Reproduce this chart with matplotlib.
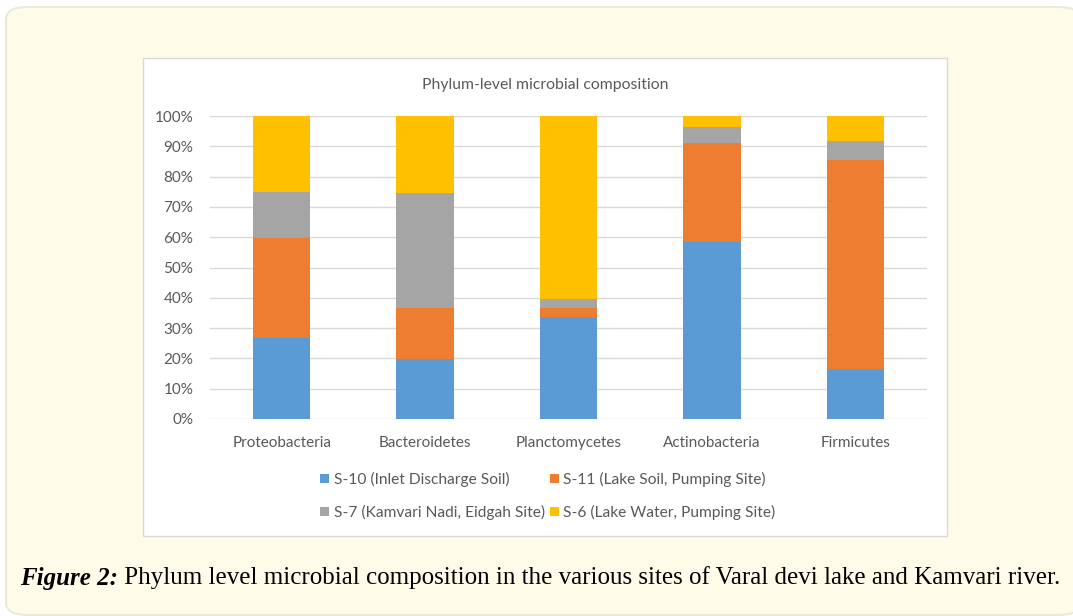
import matplotlib
matplotlib.use("Agg")
import matplotlib.pyplot as plt
from matplotlib.patches import FancyBboxPatch, Rectangle, Patch
from matplotlib.ticker import FuncFormatter

categories = ["Proteobacteria", "Bacteroidetes", "Planctomycetes", "Actinobacteria", "Firmicutes"]
series_names = ["S-10 (Inlet Discharge Soil)", "S-11 (Lake Soil, Pumping Site)",
                "S-7 (Kamvari Nadi, Eidgah Site)", "S-6 (Lake Water, Pumping Site)"]
s10 = [26.6, 19.8, 33.7, 58.5, 16.6]
s11 = [33.3, 16.7, 2.8, 32.6, 69.0]
s7 = [15.0, 38.1, 3.1, 5.3, 6.3]
s6 = [25.1, 25.4, 60.4, 3.6, 8.1]
colors = ["#5b9bd5", "#ed7d31", "#a5a5a5", "#ffc000"]
title = "Phylum-level microbial composition"
caption_bold = "Figure 2:"
caption_rest = " Phylum level microbial composition in the various sites of Varal devi lake and Kamvari river."

W, H = 1073, 616
fig = plt.figure(figsize=(W / 100, H / 100), dpi=100)
fig.patch.set_facecolor("white")

def fx(x): return x / W
def fy(y): return 1 - y / H

# cream outer box
box = FancyBboxPatch((fx(6), fy(615)), fx(1080) - fx(6), fy(7) - fy(615),
                     boxstyle="round,pad=0,rounding_size=0.02", transform=fig.transFigure,
                     facecolor="#fffbe9", edgecolor="#ede9da", linewidth=1.5, zorder=0)
fig.patches.append(box)

# white chart panel
panel = Rectangle((fx(143), fy(536)), fx(947) - fx(143), fy(58) - fy(536),
                  transform=fig.transFigure, facecolor="white", edgecolor="#d9d9d9",
                  linewidth=1, zorder=1)
fig.patches.append(panel)

ax = fig.add_axes([fx(210), fy(419), fx(927) - fx(210), fy(116) - fy(419)])
ax.set_zorder(2)
ax.patch.set_alpha(0)

font = "Lato"
txtc = "#595959"
x = list(range(len(categories)))
bottom = [0] * len(categories)
for vals, c, name in zip([s10, s11, s7, s6], colors, series_names):
    ax.bar(x, vals, 0.4, bottom=bottom, color=c, label=name, zorder=3)
    bottom = [b + v for b, v in zip(bottom, vals)]

ax.set_xlim(-0.5, len(categories) - 0.5)
ax.set_ylim(0, 100)
ax.set_yticks(range(0, 101, 10))
ax.yaxis.set_major_formatter(FuncFormatter(lambda v, p: f"{int(v)}%"))
ax.set_xticks(x)
ax.set_xticklabels(categories)
ax.grid(axis="y", color="#d9d9d9", linewidth=1, zorder=0)
ax.set_axisbelow(True)
for s in ax.spines.values():
    s.set_visible(False)
ax.tick_params(axis="both", length=0, colors=txtc, labelsize=11)
ax.tick_params(axis="y", pad=12)
ax.tick_params(axis="x", pad=12)
for lab in ax.get_xticklabels() + ax.get_yticklabels():
    lab.set_fontfamily(font)

fig.text(fx(545), fy(85), title, ha="center", va="center", fontsize=11.3,
         color=txtc, family=font, zorder=3)

handles = [Patch(facecolor=c) for c in colors]
order = [0, 2, 1, 3]
leg = fig.legend([handles[i] for i in order], [series_names[i] for i in order],
                 ncol=2, loc="center", bbox_to_anchor=(fx(548), fy(496)),
                 frameon=False, handlelength=0.55, handleheight=0.55, handletextpad=0.3,
                 columnspacing=0.35, labelspacing=1.15,
                 prop={"family": font, "size": 11.2})
for t in leg.get_texts():
    t.set_color(txtc)

# caption
cap_y = fy(578)
cap_fs = 18
t1 = fig.text(fx(20), cap_y, caption_bold, ha="left", va="center", fontsize=cap_fs,
              family="Liberation Serif", fontweight="bold", fontstyle="italic", color="black")
fig.canvas.draw()
bb = t1.get_window_extent()
fig.text(bb.x1 / W, cap_y, caption_rest, ha="left", va="center", fontsize=cap_fs,
         family="Liberation Serif", color="black")

fig.savefig("out.png", dpi=100)
